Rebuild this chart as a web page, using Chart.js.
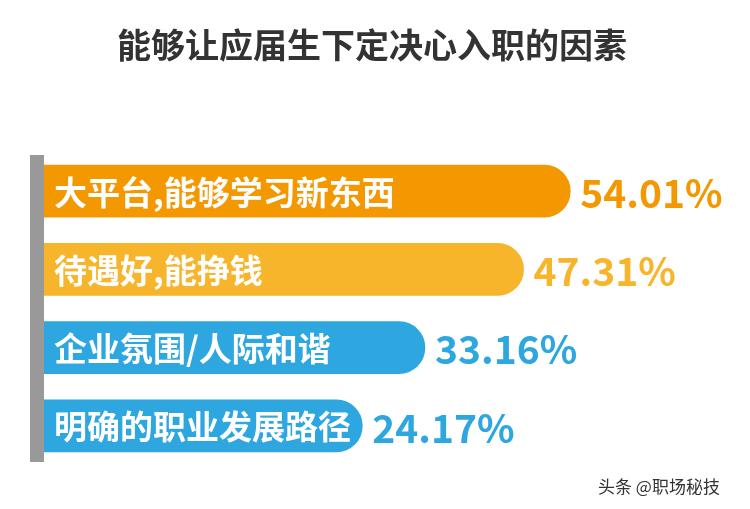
<!DOCTYPE html><html><head><meta charset="utf-8">
<script src="https://cdn.jsdelivr.net/npm/chart.js@4/dist/chart.umd.min.js"></script>
<style>body{margin:0;background:#fff}</style></head><body>
<canvas id="c" width="750" height="509"></canvas>
<script>
const categories=["大平台,能够学习新东西","待遇好,能挣钱","企业氛围/人际和谐","明确的职业发展路径"];
const values=[54.01,47.31,33.16,24.17];
const labels=["54.01%","47.31%","33.16%","24.17%"];
const colors=["#F39800","#F7B52C","#2EA7E0","#2EA7E0"];
const axisMin=-21.5;
const F="'Noto Sans CJK SC','Noto Sans',sans-serif";
const deco={id:'deco',afterDatasetsDraw(ch){
 const c=ch.ctx,meta=ch.getDatasetMeta(0);
 c.save();
 c.fillStyle="#333";c.font="bold 34px "+F;c.textAlign="center";c.textBaseline="middle";
 c.fillText("能够让应届生下定决心入职的因素",372,45);
 c.fillStyle="#999";c.fillRect(30,155,14,307);
 meta.data.forEach((b,i)=>{
  c.fillStyle="#fff";c.font="bold 33px "+F;c.textAlign="left";
  c.fillText(categories[i],54,b.y+1);
  c.fillStyle=colors[i];c.font="bold 39px "+F;
  c.fillText(labels[i],b.x+10,b.y+2);
 });
 c.fillStyle="#333";c.font="17px "+F;c.textAlign="left";
 c.fillText("头条 @职场秘技",598,487);
 c.restore();}};
new Chart(document.getElementById('c'),{type:'bar',
 data:{labels:categories,datasets:[{data:values,base:axisMin,backgroundColor:colors,borderRadius:{topRight:26,bottomRight:26,topLeft:0,bottomLeft:0},borderSkipped:false,barThickness:52}]},
 options:{indexAxis:'y',responsive:false,animation:false,devicePixelRatio:1,
  layout:{padding:{top:152,bottom:44,left:44,right:0}},
  plugins:{legend:{display:false},tooltip:{enabled:false}},
  scales:{x:{min:axisMin,max:79.8,display:false},y:{display:false}}},
 plugins:[deco]});
</script></body></html>
